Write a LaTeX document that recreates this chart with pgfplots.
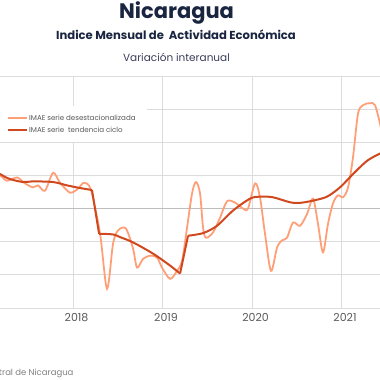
\documentclass[border=0pt]{standalone}
\usepackage{pgfplots}
\pgfplotsset{compat=1.18}
\usepackage{fontspec}
\setmainfont{Poppins}
\definecolor{lightser}{HTML}{FF9F78}
\definecolor{trendser}{HTML}{D0481E}
\definecolor{navy}{HTML}{1A2540}
\definecolor{subc}{HTML}{3A3D5A}
\definecolor{gridc}{HTML}{DCDCDC}
\definecolor{zeroc}{HTML}{BDBDBD}
\definecolor{txtc}{HTML}{595959}
\begin{document}
\begin{tikzpicture}[x=1pt,y=1pt]
\begin{axis}[
  at={(0pt,72pt)}, anchor=south west,
  scale only axis, width=380pt, height=232pt,
  xmin=2017.184, xmax=2021.430, ymin=-15, ymax=20,
  axis line style={draw=none},
  xtick={2018,2019,2020,2021},
  xticklabels={2018,2019,2020,2021},
  ytick={-15,-10,...,20}, yticklabels={},
  major tick length=0pt,
  grid=major,
  grid style={gridc, line width=0.8pt},
  extra y ticks={0}, extra y tick labels={},
  extra y tick style={grid style={zeroc, line width=1.3pt}},
  xticklabel style={font=\fontsize{11}{12}\selectfont, text=txtc, xshift=3.5pt, yshift=-2pt},
  legend style={at={(-0.008,0.871)}, anchor=north west, draw=none, fill=white,
    inner xsep=10pt, inner ysep=7.5pt, row sep=3.5pt,
    font=\fontsize{7.1}{8.5}\selectfont, text=txtc, cells={anchor=west},
    nodes={inner sep=1pt}},
  legend image code/.code={\draw[#1] (0pt,0pt) -- (19pt,0pt);},
]
\addplot[lightser, line width=1.8pt, smooth, tension=0.5] coordinates {
(2017.10,5.2) (2017.184,5.0) (2017.263,4.2) (2017.374,4.7) (2017.464,3.8)
(2017.553,3.2) (2017.609,3.5) (2017.687,2.7) (2017.777,5.4) (2017.855,3.9)
(2017.966,2.4) (2018.056,3.0) (2018.123,3.9) (2018.200,2.8) (2018.302,-3.8)
(2018.380,-12.1) (2018.447,-5.3) (2018.503,-3.3) (2018.590,-3.0) (2018.670,-6.0)
(2018.715,-8.9) (2018.782,-7.6) (2018.860,-7.1) (2018.939,-7.4) (2018.994,-8.9)
(2019.084,-10.6) (2019.162,-9.4) (2019.218,-7.9) (2019.274,-2.9) (2019.330,2.3)
(2019.374,4.0) (2019.419,2.3) (2019.453,-2.9) (2019.486,-4.4) (2019.564,-3.6)
(2019.642,-1.4) (2019.721,1.1) (2019.810,0.9) (2019.899,0.0) (2019.955,0.0)
(2020.034,3.8) (2020.089,1.7) (2020.145,-3.8) (2020.212,-9.4) (2020.279,-5.9)
(2020.335,-4.8) (2020.391,-4.4) (2020.458,-2.1) (2020.536,-2.6) (2020.615,-0.8)
(2020.682,1.5) (2020.737,-2.3) (2020.793,-6.6) (2020.849,-2.3) (2020.905,0.8)
(2020.961,2.0) (2021.017,1.7) (2021.073,3.2) (2021.128,7.7) (2021.184,14.3)
(2021.240,15.6) (2021.318,15.9) (2021.374,15.6) (2021.430,12.8) (2021.47,10.0)
};
\addlegendentry{IMAE serie desestacionalizada}
\addplot[trendser, line width=2pt, smooth, tension=0.5] coordinates {
(2017.10,5.6) (2017.184,5.2) (2017.285,4.5) (2017.441,4.0) (2017.553,4.1)
(2017.777,4.0) (2017.933,3.5) (2018.078,3.1) (2018.212,2.8)
};
\addlegendentry{IMAE serie\ \ tendencia ciclo}
\addplot[trendser, line width=2pt, forget plot] coordinates {(2018.212,2.8) (2018.291,-3.8)};
\addplot[trendser, line width=2pt, smooth, tension=0.5, forget plot] coordinates {
(2018.291,-3.8) (2018.447,-3.9) (2018.525,-4.3) (2018.670,-5.1) (2018.894,-6.8)
(2019.084,-8.6) (2019.196,-9.8)
};
\addplot[trendser, line width=2pt, forget plot] coordinates {(2019.196,-9.8) (2019.285,-4.1)};
\addplot[trendser, line width=2pt, smooth, tension=0.5, forget plot] coordinates {
(2019.285,-4.1) (2019.453,-3.7) (2019.609,-2.6) (2019.788,-0.3) (2019.978,1.5)
(2020.089,1.8) (2020.235,1.7) (2020.425,0.95) (2020.536,0.86) (2020.682,1.2)
(2020.838,1.8) (2020.983,3.2) (2021.128,5.2) (2021.285,7.2) (2021.430,8.3) (2021.50,8.7)
};
\end{axis}
\node[anchor=base, font=\fontsize{21}{24}\selectfont\bfseries, text=navy] at (176.5,361.7) {Nicaragua};
\node[anchor=base, font=\fontsize{11.6}{13}\selectfont\bfseries, text=navy] at (176,340.5) {Indice Mensual de\ \ Actividad Económica};
\node[anchor=base, font=\fontsize{10.5}{12}\selectfont, text=subc] at (176.5,318) {Variación interanual};
\node[anchor=base east, font=\fontsize{8.5}{10}\selectfont, text=gray] at (77,5) {Fuente: Banco Central de Nicaragua};
\pgfresetboundingbox
\useasboundingbox (0,0) rectangle (380,380);
\end{tikzpicture}
\end{document}
